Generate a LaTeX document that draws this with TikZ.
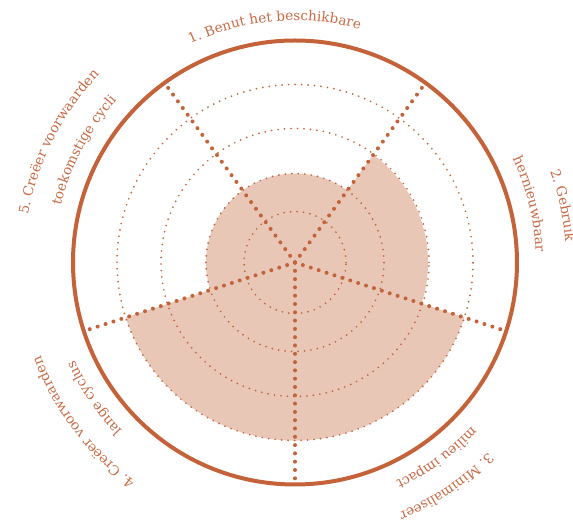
\documentclass[tikz,border=0pt]{standalone}
\usepackage{fontspec}
\setmainfont{DejaVu Serif}
\usetikzlibrary{decorations.text}
\definecolor{rust}{HTML}{C4623A}
\definecolor{sand}{HTML}{E8C7B7}
\definecolor{lblc}{HTML}{C86A45}
\newcommand\lblfmt{\color{lblc}\fontsize{13.6}{15}\selectfont}
\begin{document}
\begin{tikzpicture}[x=1pt,y=1pt,
  ring/.style={draw=rust, line width=1.9pt, line cap=round, dash pattern=on 0pt off 6.5pt},
  spoke/.style={draw=rust, line width=4pt, line cap=round, dash pattern=on 0pt off 8.3pt},
  rim/.style={draw=rust, line width=4pt},
  area/.style={fill=sand, draw=none},
  lbl/.style={decorate, decoration={text along path, text align=center}}
]
\useasboundingbox (-295,-263.5) rectangle (278,262.5);
\coordinate (c) at (0,0);
% filled score area
\path[area] (54:133) arc[start angle=54, end angle=-18, radius=133]
  -- (-18:178) arc[start angle=-18, end angle=-162, radius=178]
  -- (198:89) arc[start angle=198, end angle=54, radius=89] -- cycle;
% dotted rings
\foreach \r in {51,89,134,178} \draw[ring] (c) circle[radius=\r];
% spokes
\foreach \i/\a in {1/126,2/54,3/-18,4/-90,5/198} {
  \coordinate (s\i) at (\a:216);
  \draw[spoke] (c) -- (s\i);
}
% outer rim
\draw[rim] (c) circle[radius=222];
% labels
\path[lbl, decoration={text={|\lblfmt|1. Benut het beschikbare}}]
  (140:242) arc[start angle=140, end angle=50, radius=242];
\path[lbl, decoration={text={|\lblfmt|2. Gebruik}}]
  (52:271) arc[start angle=52, end angle=-28, radius=271];
\path[lbl, decoration={text={|\lblfmt|hernieuwbaar}}]
  (54:241) arc[start angle=54, end angle=-26, radius=241];
\path[lbl, decoration={text={|\lblfmt|3. Minimaliseer}}]
  (-16:271) arc[start angle=-16, end angle=-96, radius=271];
\path[lbl, decoration={text={|\lblfmt|milieu impact}}]
  (-14:241) arc[start angle=-14, end angle=-94, radius=241];
\path[lbl, decoration={text={|\lblfmt|4. Creëer voorwaarden}}]
  (262:271) arc[start angle=262, end angle=172, radius=271];
\path[lbl, decoration={text={|\lblfmt|lange cyclus}}]
  (259:241) arc[start angle=259, end angle=169, radius=241];
\path[lbl, decoration={text={|\lblfmt|5. Creëer voorwaarden}}]
  (198:271) arc[start angle=198, end angle=108, radius=271];
\path[lbl, decoration={text={|\lblfmt|toekomstige cycli}}]
  (197:241) arc[start angle=197, end angle=107, radius=241];
\end{tikzpicture}
\end{document}
